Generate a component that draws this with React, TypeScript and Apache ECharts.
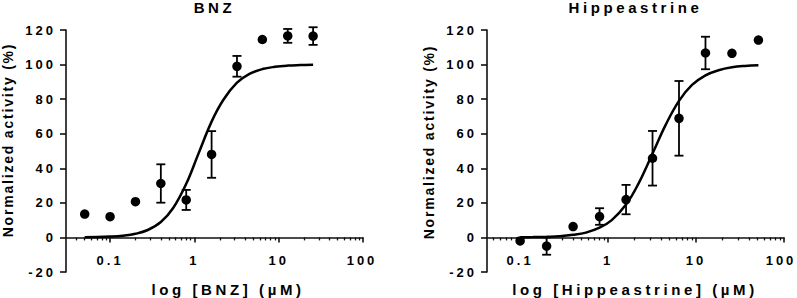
import React, { useEffect, useRef } from "react";
import * as echarts from "echarts";

// ---- texts ----
const panelTitles = ["BNZ", "Hippeastrine"];
const xAxisNames = ["log [BNZ] (µM)", "log [Hippeastrine] (µM)"];
const yAxisName = "Normalized activity (%)";

// ---- axes ----
const xTickValues = [0.1, 1, 10, 100];
const xTickLabels = ["0.1", "1", "10", "100"];
const xMinConc = [0.03, 0.042];
const xMaxConc = [100, 100];
const yMin = -20;
const yMax = 120;
const yStep = 20;

// ---- BNZ data ----
const bnzConc = [0.05, 0.1, 0.2, 0.4, 0.8, 1.6, 3.2, 6.4, 12.8, 25.6];
const bnzMean = [13.5, 12, 20.7, 31.2, 21.7, 48, 99, 114.5, 116.6, 116.5];
const bnzErr = [0, 0, 0, 11.1, 5.8, 13.5, 6, 0, 4, 5.1];
const bnzFitConc = [0.05, 0.07, 0.1, 0.14, 0.2, 0.28, 0.4, 0.56, 0.8, 1.1, 1.6, 2.2, 3.2, 4.5, 6.4, 9, 12.8, 18, 25.6];
const bnzFitY = [0.1, 0.2, 0.5, 1, 2.1, 4.3, 8.9, 17, 31, 47.6, 67, 79.5, 89.5, 94.6, 97.4, 98.7, 99.4, 99.7, 99.9];

// ---- Hippeastrine data ----
const hipConc = [0.1, 0.2, 0.4, 0.8, 1.6, 3.2, 6.4, 12.8, 25.6, 51.2];
const hipMean = [-2, -5, 6.3, 12.1, 21.9, 45.8, 68.9, 106.7, 106.5, 114.2];
const hipErr = [0, 5, 0, 4.8, 8.5, 15.8, 21.6, 9.4, 0, 0];
const hipFitConc = [0.1, 0.14, 0.2, 0.28, 0.4, 0.56, 0.8, 1.1, 1.6, 2.2, 3.2, 4.5, 6.4, 9, 12.8, 18, 25.6, 36, 51.2];
const hipFitY = [0.1, 0.2, 0.4, 0.7, 1.5, 2.8, 5.6, 10, 19, 30.8, 48.5, 65, 79, 88.2, 93.8, 96.7, 98.4, 99.2, 99.6];

const FONT = "Liberation Sans";
const lg = (v: number) => Math.log10(v);

const panels = [
  { conc: bnzConc, mean: bnzMean, err: bnzErr, fitConc: bnzFitConc, fitY: bnzFitY },
  { conc: hipConc, mean: hipMean, err: hipErr, fitConc: hipFitConc, fitY: hipFitY },
];

const gridLefts = [66, 487];
const gridWidth = 297;
const gridTop = 30;
const gridHeight = 242;
// x axis sits at y = 0
const xAxisGridHeight = (gridHeight * (yMax - 0)) / (yMax - yMin);
// small right padding on the last tick label of each panel (keeps it inside the page)
const lastLabelPad = [2, 6];

function minorTicks(minC: number, maxC: number): number[] {
  const out: number[] = [];
  for (let d = -3; d <= 2; d++) {
    for (let k = 2; k <= 9; k++) {
      const v = k * Math.pow(10, d);
      if (v > minC * 1.0001 && v < maxC) out.push(lg(v));
    }
  }
  return out;
}

const axisLineStyle = { color: "#111", width: 1.6 };
const labelStyle = { fontSize: 13, fontWeight: "bold" as const, color: "#000", fontFamily: FONT };

function buildOption() {
  const grid: any[] = [];
  const xAxis: any[] = [];
  const yAxis: any[] = [];
  const series: any[] = [];
  const graphic: any[] = [];

  panels.forEach((p, i) => {
    const xmin = lg(xMinConc[i]);
    const xmax = lg(xMaxConc[i]);
    const majors = xTickValues.map(lg);
    const g0 = 3 * i;

    // data grid
    grid.push({ left: gridLefts[i], top: gridTop, width: gridWidth, height: gridHeight });
    xAxis.push({ type: "value", gridIndex: g0, min: xmin, max: xmax, show: false });
    yAxis.push({
      type: "value",
      gridIndex: g0,
      min: yMin,
      max: yMax,
      interval: yStep,
      axisLine: { show: true, onZero: false, lineStyle: axisLineStyle },
      axisTick: { show: true, length: 6, lineStyle: axisLineStyle },
      axisLabel: { ...labelStyle, margin: 10 },
      splitLine: { show: false },
    });

    // major x axis grid (bottom edge at y = 0)
    grid.push({ left: gridLefts[i], top: gridTop, width: gridWidth, height: xAxisGridHeight });
    xAxis.push({
      type: "value",
      gridIndex: g0 + 1,
      position: "bottom",
      min: xmin,
      max: xmax,
      axisLine: { show: true, onZero: false, lineStyle: axisLineStyle },
      axisTick: { show: true, customValues: majors, length: 5, lineStyle: axisLineStyle },
      axisLabel: {
        ...labelStyle,
        customValues: majors,
        margin: 17,
        formatter: (v: number) => {
          const idx = majors.findIndex((m) => Math.abs(m - v) < 1e-6);
          if (idx < 0) return "";
          return idx === majors.length - 1 ? `{last|${xTickLabels[idx]}}` : xTickLabels[idx];
        },
        rich: {
          last: { ...labelStyle, padding: [0, lastLabelPad[i], 0, 0] },
        },
      },
      splitLine: { show: false },
    });
    yAxis.push({ type: "value", gridIndex: g0 + 1, min: 0, max: yMax, show: false });

    // minor x ticks grid
    grid.push({ left: gridLefts[i], top: gridTop, width: gridWidth, height: xAxisGridHeight });
    xAxis.push({
      type: "value",
      gridIndex: g0 + 2,
      position: "bottom",
      min: xmin,
      max: xmax,
      axisLine: { show: false, onZero: false },
      axisTick: { show: true, customValues: minorTicks(xMinConc[i], xMaxConc[i]), length: 3, lineStyle: { color: "#111", width: 1.3 } },
      axisLabel: { show: false },
      splitLine: { show: false },
    });
    yAxis.push({ type: "value", gridIndex: g0 + 2, min: 0, max: yMax, show: false });

    series.push({
      type: "line",
      xAxisIndex: g0,
      yAxisIndex: g0,
      data: p.fitConc.map((c, j) => [lg(c), p.fitY[j]]),
      smooth: 0.4,
      showSymbol: false,
      symbol: "none",
      lineStyle: { color: "#000", width: 2.5 },
      z: 2,
    });
    series.push({
      type: "custom",
      xAxisIndex: g0,
      yAxisIndex: g0,
      data: p.conc
        .map((c, j) => [lg(c), p.mean[j] - p.err[j], p.mean[j] + p.err[j], p.err[j]])
        .filter((d) => d[3] > 0),
      encode: { x: 0, y: [1, 2] },
      renderItem: (params: any, api: any) => {
        const x = api.value(0);
        const lo = api.coord([x, api.value(1)]);
        const hi = api.coord([x, api.value(2)]);
        const w = 4.5;
        const st = { stroke: "#000", lineWidth: 1.8 };
        return {
          type: "group",
          children: [
            { type: "line", shape: { x1: lo[0], y1: lo[1], x2: hi[0], y2: hi[1] }, style: st },
            { type: "line", shape: { x1: lo[0] - w, y1: lo[1], x2: lo[0] + w, y2: lo[1] }, style: st },
            { type: "line", shape: { x1: hi[0] - w, y1: hi[1], x2: hi[0] + w, y2: hi[1] }, style: st },
          ],
        };
      },
      z: 3,
    });
    series.push({
      type: "scatter",
      xAxisIndex: g0,
      yAxisIndex: g0,
      data: p.conc.map((c, j) => [lg(c), p.mean[j]]),
      symbol: "circle",
      symbolSize: 9.5,
      itemStyle: { color: "#000", opacity: 1 },
      z: 4,
    });
  });

  const titleX = [214.5, 635.5];
  const xNameX = [228, 635];
  const yNameX = [8, 428.5];
  const yNameY = [140, 142];
  for (let i = 0; i < 2; i++) {
    graphic.push({
      type: "text",
      x: titleX[i],
      y: 7.5,
      style: { text: panelTitles[i], fontSize: 15, fontWeight: "bold", fontFamily: FONT, fill: "#000", textAlign: "center", textVerticalAlign: "middle" },
    });
    graphic.push({
      type: "text",
      x: xNameX[i],
      y: 289.5,
      style: { text: xAxisNames[i], fontSize: 15, fontWeight: "bold", fontFamily: FONT, fill: "#000", textAlign: "center", textVerticalAlign: "middle" },
    });
    graphic.push({
      type: "text",
      x: yNameX[i],
      y: yNameY[i],
      rotation: Math.PI / 2,
      style: { text: yAxisName, fontSize: 14, fontWeight: "bold", fontFamily: FONT, fill: "#000", textAlign: "center", textVerticalAlign: "middle" },
    });
  }

  return {
    animation: false,
    backgroundColor: "#fff",
    grid,
    xAxis,
    yAxis,
    series,
    graphic,
  };
}

const css = `
.chart-wrap text { letter-spacing: 3px; }
.chart-wrap text[style*="14px"] { letter-spacing: 1.8px; }
.chart-wrap text[style*="15px"] { letter-spacing: 3.6px; }
`;

export default function App() {
  const ref = useRef<HTMLDivElement>(null);
  useEffect(() => {
    if (!ref.current) return;
    const chart = echarts.init(ref.current, null, { renderer: "svg" });
    chart.setOption(buildOption());
    return () => chart.dispose();
  }, []);
  return (
    <div className="chart-wrap" style={{ position: "fixed", left: 0, top: 0, width: 797, height: 298, background: "#fff" }}>
      <style>{css}</style>
      <div ref={ref} style={{ width: 797, height: 298 }} />
    </div>
  );
}
